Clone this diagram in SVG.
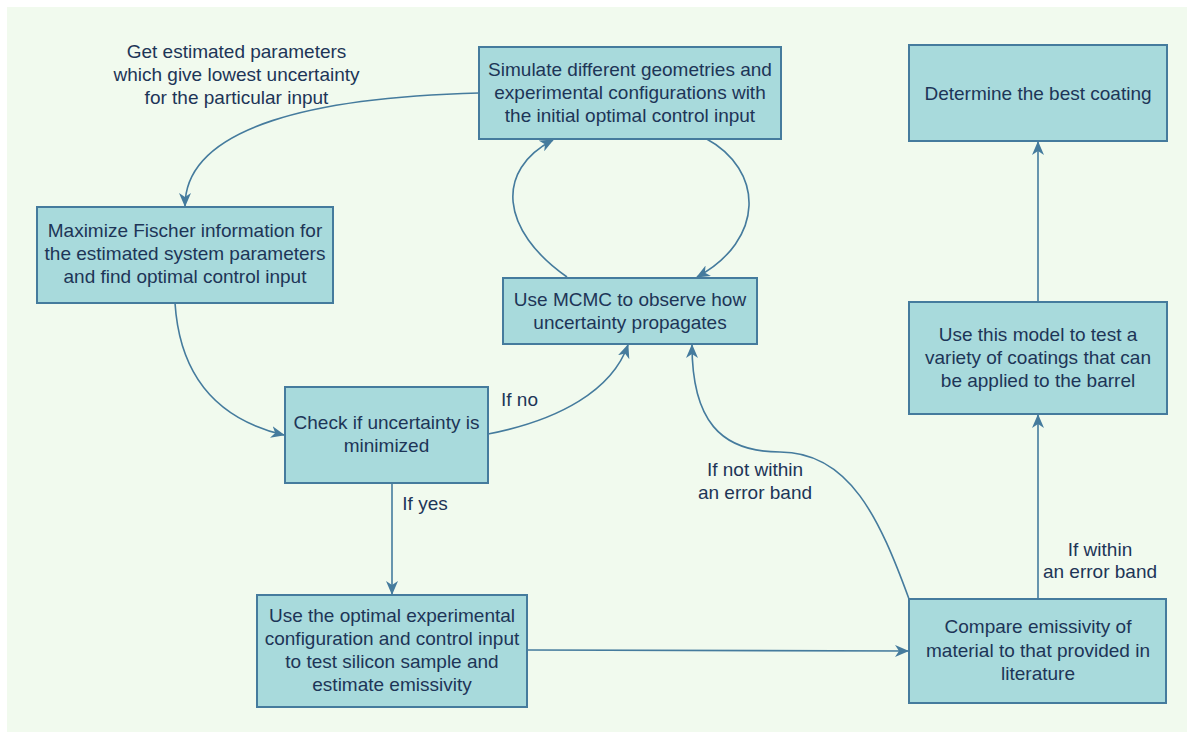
<svg xmlns="http://www.w3.org/2000/svg" width="1187" height="732" viewBox="0 0 1187 732">
<style>
.node rect{fill:#A8DADC;stroke:#457B9D;stroke-width:2}
text{font-family:"Liberation Sans",Arial,sans-serif;font-size:19px;fill:#1D3557;text-anchor:middle}
.edge{fill:none;stroke:#457B9D;stroke-width:1.6}
</style>
<defs>
<marker id="arr" viewBox="0 0 14 12" refX="13" refY="6" markerWidth="14" markerHeight="12" markerUnits="userSpaceOnUse" orient="auto">
<path d="M0,0 L14,6 L0,12 L4,6 Z" fill="#457B9D"/>
</marker>
</defs>
<rect x="0" y="0" width="1187" height="732" fill="#ffffff"/>
<rect x="7" y="7" width="1180" height="725" fill="#F1FAEE"/>
<g id="connectors">
<path class="edge" d="M479,93 C320,97 185,125 185,206" marker-end="url(#arr)"/>
<path class="edge" d="M175,303 C180,380 220,420 284,435" marker-end="url(#arr)"/>
<path class="edge" d="M488,434 C560,420 612,390 628,345" marker-end="url(#arr)"/>
<path class="edge" d="M392,483 L392,594" marker-end="url(#arr)"/>
<path class="edge" d="M527,650 L908,651" marker-end="url(#arr)"/>
<path class="edge" d="M909,599 C880,520 850,452 780,452 C720,452 692,420 692,345" marker-end="url(#arr)"/>
<path class="edge" d="M1038,599 L1038,415" marker-end="url(#arr)"/>
<path class="edge" d="M1038,302 L1038,142" marker-end="url(#arr)"/>
<path class="edge" d="M567,277 C500,230 495,170 553,140" marker-end="url(#arr)"/>
<path class="edge" d="M705,138 C765,170 765,240 697,277" marker-end="url(#arr)"/>
<text x="519.5" y="406">If no</text>
<text x="425" y="510">If yes</text>
<text x="755" y="476">If not within</text>
<text x="755" y="499">an error band</text>
<text x="1100" y="556">If within</text>
<text x="1100" y="578">an error band</text>
</g>
<g id="label-get">
<text x="236.5" y="58">Get estimated parameters</text>
<text x="236.5" y="81">which give lowest uncertainty</text>
<text x="236.5" y="104">for the particular input</text>
</g>
<g id="simulate" class="node">
<rect x="479" y="47" width="302" height="92"/>
<text x="630" y="76">Simulate different geometries and</text>
<text x="630" y="99">experimental configurations with</text>
<text x="630" y="122">the initial optimal control input</text>
</g>
<g id="mcmc" class="node">
<rect x="503" y="278" width="254" height="66"/>
<text x="630" y="306">Use MCMC to observe how</text>
<text x="630" y="329">uncertainty propagates</text>
</g>
<g id="maximize" class="node">
<rect x="37" y="207" width="296" height="96"/>
<text x="185" y="237">Maximize Fischer information for</text>
<text x="185" y="260">the estimated system parameters</text>
<text x="185" y="283">and find optimal control input</text>
</g>
<g id="check" class="node">
<rect x="285" y="387" width="203" height="96"/>
<text x="386.5" y="429">Check if uncertainty is</text>
<text x="386.5" y="452">minimized</text>
</g>
<g id="useoptimal" class="node">
<rect x="257" y="595" width="270" height="112"/>
<text x="392" y="622">Use the optimal experimental</text>
<text x="392" y="645">configuration and control input</text>
<text x="392" y="668">to test silicon sample and</text>
<text x="392" y="691">estimate emissivity</text>
</g>
<g id="compare" class="node">
<rect x="909" y="599" width="257" height="104"/>
<text x="1038" y="633">Compare emissivity of</text>
<text x="1038" y="657">material to that provided in</text>
<text x="1038" y="680">literature</text>
</g>
<g id="usemodel" class="node">
<rect x="909" y="302" width="258" height="112"/>
<text x="1038" y="341">Use this model to test a</text>
<text x="1038" y="364">variety of coatings that can</text>
<text x="1038" y="387">be applied to the barrel</text>
</g>
<g id="determine" class="node">
<rect x="909" y="45" width="258" height="96"/>
<text x="1038" y="100">Determine the best coating</text>
</g>
</svg>
